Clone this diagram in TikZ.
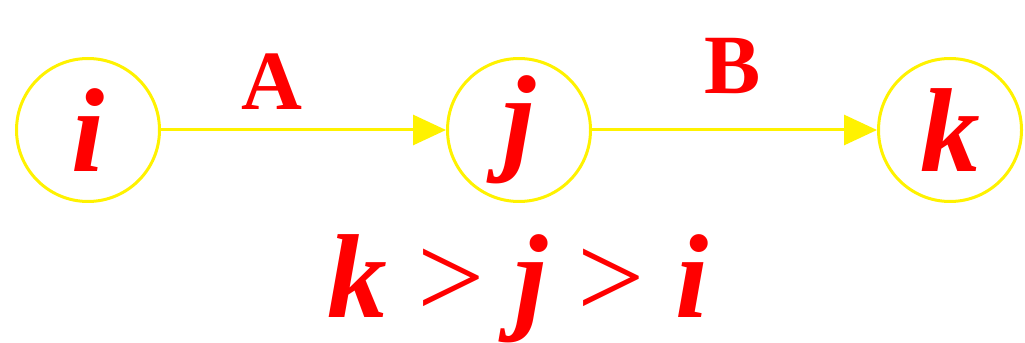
\documentclass[tikz,border=0pt]{standalone}
\usepackage{fontspec}
\setmainfont{Liberation Serif}
\usetikzlibrary{arrows.meta}
\newcommand{\bigvar}[1]{{\bfseries\itshape #1}}
\begin{document}
\begin{tikzpicture}[
  every node/.style={text=red},
  vertex/.style={circle,draw=yellow,line width=0.06cm,minimum size=2.86cm,inner sep=0pt,font=\fontsize{68}{80}\selectfont\bfseries\itshape},
  edgelabel/.style={anchor=base,font=\fontsize{48}{56}\selectfont\bfseries},
  flow/.style={draw=yellow,line width=0.06cm,-{Triangle[length=0.66cm,width=0.6cm]}}
]
\useasboundingbox (0,0) rectangle (20.5,6.84);
\node[vertex] (i) at (1.76,4.24) {i};
\node[vertex] (j) at (10.38,4.24) {j};
\node[vertex] (k) at (19.0,4.24) {k};
\draw[flow] (i) -- (j);
\draw[flow] (j) -- (k);
\node[edgelabel] (labA) at (5.44,4.64) {A};
\node[edgelabel] (labB) at (14.66,4.96) {B};
\node[anchor=base,font=\fontsize{68}{80}\selectfont] (order) at (10.36,0.5) {\bigvar{k} > \bigvar{j} > \bigvar{i}};
\end{tikzpicture}
\end{document}
